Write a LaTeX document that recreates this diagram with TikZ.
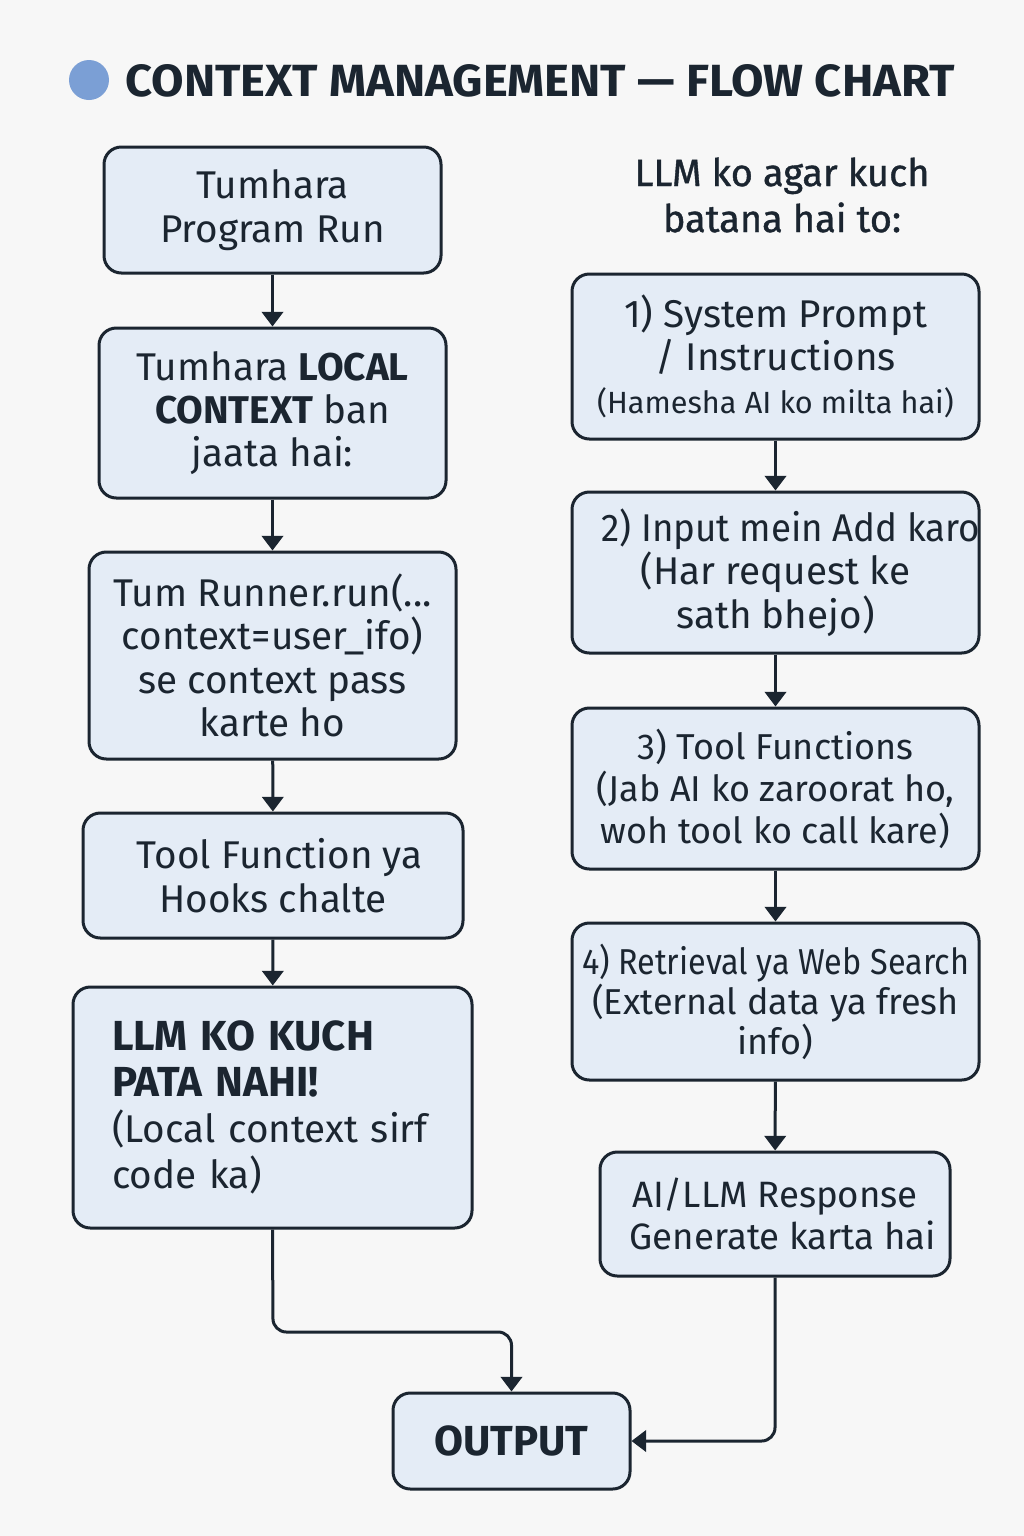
\documentclass[tikz,border=0pt]{standalone}
\usepackage{fontspec}
\setmainfont{Fira Sans}
\newfontfamily\medfont[FakeBold=1]{Fira Sans}
\usetikzlibrary{arrows.meta,calc}
\definecolor{bg}{HTML}{F7F7F7}
\definecolor{boxfill}{HTML}{E4ECF6}
\definecolor{edge}{HTML}{1B2530}
\definecolor{dot}{HTML}{7B9FD5}
\tikzset{
  box/.style={draw=edge, line width=2.25pt, fill=boxfill, rounded corners=13pt,
    align=center, inner sep=0pt, text=edge, font=\fontsize{29}{32.5}\selectfont},
  arr/.style={draw=edge, line width=2.25pt, -{Triangle[width=16pt,length=11pt]}},
}
\begin{document}
\begin{tikzpicture}[x=0.75pt,y=-0.75pt]
\fill[bg] (0,0) rectangle (1024,1536);
\useasboundingbox (0,0) rectangle (1024,1536);
% title
\fill[dot] (89,80) circle (15pt);
\node[anchor=base west, inner sep=0pt, text=edge] (title) at (125,96)
  {\resizebox{622pt}{24pt}{\bfseries CONTEXT MANAGEMENT — FLOW CHART}};
% right header
\node[align=center, inner sep=0pt, text=edge, font=\medfont\fontsize{28.5}{34.5}\selectfont] (hdr) at (782,195)
  {LLM ko agar kuch\\batana hai to:};
% left column
\node[box, minimum width=252.75pt, minimum height=94.5pt] (b1) at (272.5,210)
  {Tumhara\\Program Run};
\node[box, minimum width=260.25pt, minimum height=127.5pt] (b2) at (272.5,413)
  {Tumhara \textbf{LOCAL}\\\textbf{CONTEXT} ban\\jaata hai:};
\node[box, minimum width=275.25pt, minimum height=155.25pt] (b3) at (272.5,655.5)
  {Tum Runner.run(...\\context=user\_ifo)\\se context pass\\karte ho};
\node[box, minimum width=285pt, minimum height=93.75pt] (b4) at (273,875.5)
  {\hspace*{10pt}Tool Function ya\\Hooks chalte};
\node[box, minimum width=299.25pt, minimum height=180.75pt, text width=240.75pt, align=left,
  font=\fontsize{29}{34.5}\selectfont] (b5) at (272.5,1107.5)
  {{\bfseries\fontsize{31.5}{34.5}\selectfont LLM KO KUCH\\PATA NAHI!}\\(Local context sirf\\code ka)};
\node[box, minimum width=177.75pt, minimum height=72pt, font=\bfseries\fontsize{31.5}{32}\selectfont] (out) at (511.5,1441)
  {OUTPUT};
% right column
\node[box, minimum width=305.25pt, minimum height=123.75pt] (r1) at (775.5,356.5)
  {1) System Prompt\\/ Instructions\\{\fontsize{23}{30}\selectfont (Hamesha AI ko milta hai)}};
\node[box, minimum width=305.25pt, minimum height=120.75pt] (r2) at (775.5,572.5)
  {\makebox[0pt]{\hspace*{23pt}\scalebox{0.95}[1]{2) Input mein Add karo}}\\(Har request ke\\sath bhejo)};
\node[box, minimum width=305.25pt, minimum height=120.75pt, font=\fontsize{27}{31.5}\selectfont] (r3) at (775.5,788.5)
  {3) Tool Functions\\(Jab AI ko zaroorat ho,\\woh tool ko call kare)};
\node[box, minimum width=305.25pt, minimum height=117.75pt, font=\fontsize{27}{30}\selectfont] (r4) at (775.5,1001.5)
  {\scalebox{0.9}[1]{4) Retrieval ya Web Search}\\(External data ya fresh\\info)};
\node[box, minimum width=262.5pt, minimum height=93pt, font=\fontsize{27.5}{31.5}\selectfont] (r5) at (775,1214)
  {AI/LLM Response\\\hspace*{12pt}Generate karta hai};
% connectors
\draw[arr] (b1) -- (b2);
\draw[arr] (b2) -- (b3);
\draw[arr] (b3) -- (b4);
\draw[arr] (b4) -- (b5);
\draw[arr] (r1) -- (r2);
\draw[arr] (r2) -- (r3);
\draw[arr] (r3) -- (r4);
\draw[arr] (r4) -- (r5);
\coordinate (j1) at (273,1332);
\draw[arr, rounded corners=10pt] (b5.south) -- (j1) -| (out.north);
\draw[arr, rounded corners=10pt] (r5.south) |- (out.east);
\end{tikzpicture}
\end{document}
